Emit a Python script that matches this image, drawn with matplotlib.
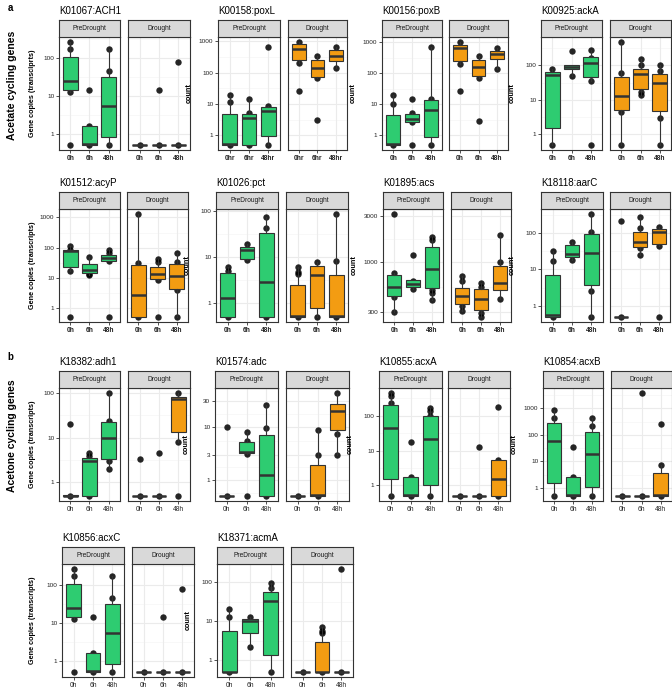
import numpy as np
import matplotlib.pyplot as plt
from matplotlib.ticker import NullLocator

plt.rcParams['font.family'] = ['Liberation Sans', 'DejaVu Sans']

W, H = 672, 692
GREEN = '#2ECC71'
ORANGE = '#F39C12'
DARK = '#333333'

genes = ['K01067:ACH1', 'K00158:poxL', 'K00156:poxB', 'K00925:ackA',
         'K01512:acyP', 'K01026:pct', 'K01895:acs', 'K18118:aarC',
         'K18382:adh1', 'K01574:adc', 'K10855:acxA', 'K10854:acxB',
         'K10856:acxC', 'K18371:acmA']
facets = ['PreDrought', 'Drought']
times = ['0h', '6h', '48h']
times_hr = ['0hr', '6hr', '48hr']

# order of groups: PreDrought 0h, 6h, 48h, Drought 0h, 6h, 48h
# boxes: [whisker low, q1, median, q3, whisker high]
ach1_points = [[265, 176, 12.4, 0.5], [14, 1.6, 0.5], [173, 46, 0.5], [0.5], [14, 0.5], [77, 0.5]]
ach1_boxes = [[12.4, 14.6, 24, 110, 265], [0.5, 0.5, 0.52, 1.6, 1.6], [0.5, 0.8, 5.5, 31, 173],
              [0.5, 0.5, 0.5, 0.5, 0.5], [0.5, 0.5, 0.5, 0.5, 0.5], [0.5, 0.5, 0.5, 0.5, 0.5]]

poxl_points = [[20, 11.8, 0.5], [14, 5.3, 0.5], [650, 8.6, 0.5], [930, 205, 26], [335, 65, 3], [650, 142]]
poxl_boxes = [[0.5, 0.5, 0.55, 4.66, 20], [0.5, 0.5, 3.5, 4.9, 14], [0.5, 0.95, 6.2, 8, 8.6],
              [205, 245, 545, 790, 930], [65, 73, 142, 250, 335], [142, 230, 330, 505, 650]]

poxb_points = [[20.5, 10.5, 0.5], [14.5, 5.2, 2.7, 0.5], [710, 15.2, 0.5], [1000, 205, 26], [355, 72, 2.9], [650, 141]]
poxb_boxes = [[0.5, 0.5, 0.54, 4.6, 20.5], [2.7, 2.7, 3.45, 4.8, 5.2], [0.5, 0.88, 6.4, 13.5, 710],
              [205, 250, 650, 800, 1000], [72, 80, 160, 275, 355], [141, 297, 410, 530, 650]]

acka_points = [[78, 0.5], [253, 50], [283, 163, 54, 36, 0.5], [470, 60, 4.4, 0.5], [152, 105, 16.6, 13.6], [100, 67, 3, 0.5]]
acka_boxes = [[0.5, 1.56, 54, 64, 78], [50, 78, 89, 105, 105], [36, 45, 117, 170, 283],
              [0.5, 5, 12.8, 46, 470], [13.6, 21, 57, 78, 152], [0.5, 4.7, 31, 57, 100]]

acyp_points = [[114, 85, 16.3, 0.5], [49, 12.9, 12], [85, 66, 35, 0.5], [1290, 31, 0.5], [43, 33, 8.2, 0.5], [68, 33, 3.8, 0.5]]
acyp_boxes = [[16.3, 22.6, 75, 81, 114], [12, 14.3, 17.6, 29, 49], [35, 35, 46, 58, 85],
              [0.5, 0.5, 2.7, 26, 1290], [8.2, 8.8, 12.9, 22.6, 43], [0.5, 4.3, 11, 29, 68]]

pct_points = [[5.9, 5, 0.5], [18.7, 8.6], [72, 41.5, 0.5], [5.9, 4.8, 4.2, 0.5], [7.9, 0.5], [85, 8.3, 0.5]]
pct_boxes = [[0.5, 0.5, 1.28, 4.4, 5.9], [8.6, 9.1, 14, 16.2, 18.7], [0.5, 0.5, 2.9, 33.5, 72],
             [0.5, 0.5, 0.53, 2.5, 5.9], [0.5, 0.78, 4.1, 6.4, 7.9], [0.5, 0.5, 0.53, 4.1, 85]]

acs_points = [[3140, 760, 430, 300], [1170, 638, 520], [1800, 1670, 510, 473, 404],
              [712, 638, 345, 307], [608, 553, 295, 268], [1925, 1000, 413]]
acs_boxes = [[300, 437, 553, 730, 760], [520, 553, 585, 648, 648], [404, 532, 840, 1425, 1800],
             [307, 365, 437, 540, 712], [268, 314, 410, 520, 608], [413, 512, 608, 917, 1925]]

aarc_points = [[31.6, 17.6, 0.5], [58, 18.7], [330, 109, 2.6, 0.5], [208, 0.5], [268, 134, 38, 25.7], [142, 43, 0.5]]
aarc_boxes = [[0.5, 0.5, 0.56, 7.2, 31.6], [18.7, 22.6, 26.8, 47, 58], [0.5, 3.7, 28, 94, 330],
              [0.5, 0.5, 0.5, 0.5, 0.5], [25.7, 42.5, 58, 109, 268], [43, 50, 109, 129, 142]]

adh1_points = [[20, 0.5], [4.5, 4, 0.5], [100, 24, 3.05, 2], [3.3, 0.5], [4.5, 0.5], [100, 7.9, 0.5]]
adh1_boxes = [[0.5, 0.5, 0.5, 0.52, 0.52], [0.5, 0.5, 2.95, 3.5, 4.5], [2, 3.3, 10, 22.8, 100],
              [0.5, 0.5, 0.5, 0.5, 0.5], [0.5, 0.5, 0.5, 0.5, 0.5], [7.9, 13.6, 73, 84, 100]]

adc_points = [[10, 0.5], [8, 5.4, 3.1, 0.5], [25.7, 9.3, 0.5], [0.5], [8.7, 2.9, 0.5], [43, 7.3, 2.9]]
adc_boxes = [[0.5, 0.5, 0.5, 0.5, 0.5], [3.1, 3.2, 3.3, 5.1, 8], [0.5, 0.5, 1.22, 6.9, 25.7],
             [0.5, 0.5, 0.5, 0.5, 0.5], [0.5, 0.5, 0.52, 1.9, 8.7], [2.9, 8.6, 20, 26.8, 43]]

acxa_points = [[443, 357, 230, 0.5], [17.7, 1.77, 0.5], [165, 133, 96, 0.5], [0.5], [12.7, 0.5], [180, 5.5, 0.5]]
acxa_boxes = [[0.5, 1.55, 44.6, 206, 443], [0.5, 0.5, 0.52, 1.77, 1.77], [0.5, 1.02, 22, 100, 165],
              [0.5, 0.5, 0.5, 0.5, 0.5], [0.5, 0.5, 0.5, 0.5, 0.5], [0.5, 0.5, 1.55, 5.2, 5.5]]

acxb_points = [[890, 420, 0.5], [34, 2.67, 0.5], [420, 210, 0.5], [0.5], [3800, 0.5], [256, 7.3, 0.5]]
acxb_boxes = [[0.5, 1.54, 57, 272, 890], [0.5, 0.5, 0.56, 2.67, 2.67], [0.5, 1.12, 19, 135, 420],
              [0.5, 0.5, 0.5, 0.5, 0.5], [0.5, 0.5, 0.5, 0.5, 0.5], [0.5, 0.5, 0.53, 3.7, 7.3]]

acxc_points = [[265, 176, 12.4, 0.5], [14, 1.6, 0.5], [173, 46, 0.5], [0.5], [14, 0.5], [77, 0.5]]
acxc_boxes = [[12.4, 14.6, 24, 110, 265], [0.5, 0.5, 0.52, 1.6, 1.6], [0.5, 0.8, 5.5, 31, 173],
              [0.5, 0.5, 0.5, 0.5, 0.5], [0.5, 0.5, 0.5, 0.5, 0.5], [0.5, 0.5, 0.5, 0.5, 0.5]]

acma_points = [[20.5, 12.6, 0.5], [12.6, 2.2], [96, 70, 0.5], [0.5], [7.2, 5.7, 4.9, 0.5], [220, 0.5]]
acma_boxes = [[0.5, 0.5, 0.51, 5.5, 20.5], [2.2, 4.9, 10.3, 11.4, 12.6], [0.5, 1.35, 33.8, 57, 96],
              [0.5, 0.5, 0.5, 0.5, 0.5], [0.5, 0.5, 0.51, 3.0, 7.2], [0.5, 0.5, 0.5, 0.5, 0.5]]

all_points = [ach1_points, poxl_points, poxb_points, acka_points, acyp_points, pct_points,
              acs_points, aarc_points, adh1_points, adc_points, acxa_points, acxb_points,
              acxc_points, acma_points]
all_boxes = [ach1_boxes, poxl_boxes, poxb_boxes, acka_boxes, acyp_boxes, pct_boxes,
             acs_boxes, aarc_boxes, adh1_boxes, adc_boxes, acxa_boxes, acxb_boxes,
             acxc_boxes, acma_boxes]
yticks = [[1, 10, 100], [1, 10, 100, 1000], [1, 10, 100, 1000], [1, 10, 100],
          [1, 10, 100, 1000], [1, 10, 100], [300, 1000, 3000], [1, 10, 100],
          [1, 10, 100], [1, 3, 10, 30], [1, 10, 100], [1, 10, 100, 1000],
          [1, 10, 100], [1, 10, 100]]

# layout in pixels
row_y = [(37, 150), (209, 322), (388, 501), (564, 677)]
col_x = [[(59, 120, 128, 190), (218, 280, 288, 347), (382, 442, 449, 508), (541, 602, 610, 671)],
         [(59, 120, 127, 188), (216, 278, 286, 348), (383, 443, 451, 511), (541, 603, 610, 670)],
         [(59, 120, 128, 190), (215, 278, 286, 349), (379, 442, 448, 510), (543, 603, 611, 672)],
         [(62, 124, 132, 194), (217, 283, 291, 353)]]
STRIP = 17


def rect(x0, x1, y0, y1):
    return [x0 / W, 1 - y1 / H, (x1 - x0) / W, (y1 - y0) / H]


fig = plt.figure(figsize=(W / 100, H / 100), dpi=100)

for g, gene in enumerate(genes):
    r, c = divmod(g, 4)
    y0, y1 = row_y[r]
    xs = col_x[r][c]
    pts, boxes = all_points[g], all_boxes[g]
    allv = [v for p in pts for v in p] + [v for b in boxes for v in b]
    lo, hi = np.log10(min(allv)), np.log10(max(allv))
    pad = 0.05 * (hi - lo)
    ylim = (10 ** (lo - pad), 10 ** (hi + pad))
    lt = np.log10(yticks[g])
    ext = np.concatenate([[2 * lt[0] - lt[1]], lt, [2 * lt[-1] - lt[-2]]])
    minors = 10 ** ((ext[:-1] + ext[1:]) / 2)
    bold = 'bold' if r < 2 else 'normal'
    tl = times_hr if gene == 'K00158:poxL' else times

    for f in range(2):
        ax = fig.add_axes(rect(xs[2 * f], xs[2 * f + 1], y0, y1))
        ax.set_yscale('log')
        ax.set_ylim(ylim)
        ax.set_xlim(0.4, 3.6)
        ax.set_yticks(yticks[g], [str(t) for t in yticks[g]])
        ax.yaxis.set_minor_locator(NullLocator())
        ax.set_xticks([1, 2, 3], tl)
        ax.set_axisbelow(True)
        ax.grid(True, which='major', color='#EBEBEB', lw=0.8)
        for m in minors:
            ax.axhline(m, color='#F5F5F5', lw=0.45, zorder=0.5)
        for s in ax.spines.values():
            s.set_color(DARK)
            s.set_linewidth(0.8)
        ax.tick_params(length=2.2, width=0.6, color=DARK, pad=1.2, labelsize=4.6, labelcolor='#222222')
        for lab in ax.get_xticklabels():
            lab.set_fontweight(bold)
            lab.set_fontsize(4.8)
        if f == 1:
            ax.tick_params(axis='y', left=False, labelleft=False)

        color = GREEN if f == 0 else ORANGE
        for j in range(3):
            p = pts[3 * f + j]
            ax.plot([j + 1] * len(p), p, 'o', color='black', ms=4.6, mec='none', alpha=0.85, zorder=2)
        stats = [dict(whislo=b[0], q1=b[1], med=b[2], q3=b[3], whishi=b[4], fliers=[])
                 for b in boxes[3 * f:3 * f + 3]]
        ax.bxp(stats, positions=[1, 2, 3], widths=0.75, patch_artist=True, showfliers=False,
               showcaps=False, manage_ticks=False,
               boxprops=dict(facecolor=color, edgecolor=DARK, lw=0.8),
               whiskerprops=dict(color=DARK, lw=0.8),
               medianprops=dict(color=DARK, lw=1.8, solid_capstyle='butt'), zorder=3)

        sax = fig.add_axes(rect(xs[2 * f], xs[2 * f + 1], y0 - STRIP, y0))
        sax.set_facecolor('#D9D9D9')
        sax.set_xticks([])
        sax.set_yticks([])
        for s in sax.spines.values():
            s.set_color(DARK)
            s.set_linewidth(0.8)
        sax.text(0.5, 0.5, facets[f], ha='center', va='center', fontsize=4.8, color='#1A1A1A')

    fig.text(xs[0] / W, 1 - (y0 - STRIP - 9) / H, gene, fontsize=7, ha='left', va='center')
    if c == 0:
        ylab = 'Gene copies (transciprts)' if g == 0 else 'Gene copies (transcripts)'
        fig.text(32 / W, 1 - (y0 + y1) / 2 / H, ylab, rotation=90, ha='center', va='center',
                 fontsize=5.2, fontweight='bold')
    else:
        fig.text((xs[0] - 29) / W, 1 - (y0 + y1) / 2 / H, 'count', rotation=90, ha='center',
                 va='center', fontsize=5.2, fontweight='bold')

fig.text(10 / W, 1 - 8 / H, 'a', fontsize=7, fontweight='bold', ha='center', va='center')
fig.text(10 / W, 1 - 357 / H, 'b', fontsize=7, fontweight='bold', ha='center', va='center')
fig.text(12 / W, 1 - 85 / H, 'Acetate cycling genes', rotation=90, fontsize=7.5, fontweight='bold',
         ha='center', va='center')
fig.text(12 / W, 1 - 436 / H, 'Acetone cycling genes', rotation=90, fontsize=7.5, fontweight='bold',
         ha='center', va='center')

fig.savefig('out.png', dpi=100)
